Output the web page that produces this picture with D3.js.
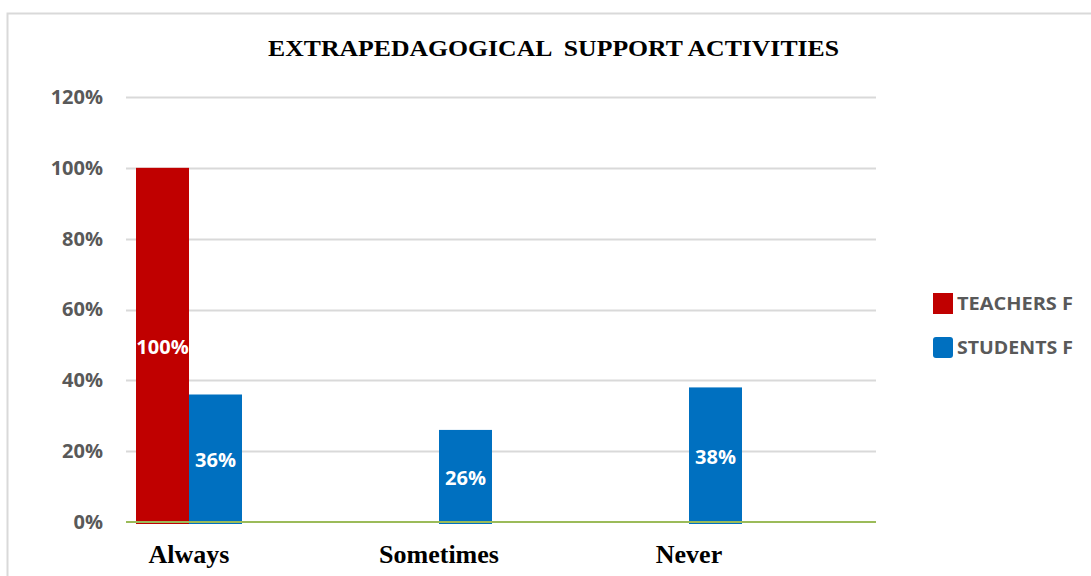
<!DOCTYPE html>
<html>
<head>
<meta charset="utf-8">
<script src="https://cdn.jsdelivr.net/npm/d3@7"></script>
<style>
  html, body { margin: 0; padding: 0; background: #ffffff; }
  svg { display: block; }
</style>
</head>
<body>
<svg id="chart" width="1091" height="576"></svg>
<script>
// Chart data
const categories = ["Always", "Sometimes", "Never"];
const seriesNames = ["TEACHERS F", "STUDENTS F"];
const teachersF = [1.00, null, null];
const studentsF = [0.36, 0.26, 0.38];
const yTicks = [0, 0.2, 0.4, 0.6, 0.8, 1.0, 1.2];
const chartTitle = "EXTRAPEDAGOGICAL  SUPPORT ACTIVITIES";

const seriesValues = [teachersF, studentsF];
const seriesColors = ["#c00000", "#0070c0"];

const svg = d3.select("#chart");

// Outer chart frame
svg.append("rect")
  .attr("x", 7.5).attr("y", 13.5)
  .attr("width", 1200).attr("height", 700)
  .attr("fill", "none")
  .attr("stroke", "#d9d9d9")
  .attr("stroke-width", 2);

// Plot area
const plot = { left: 126, right: 876, top: 97, bottom: 522 };

const y = d3.scaleLinear().domain([0, 1.2]).range([plot.bottom, plot.top]);
const x = d3.scaleBand().domain(categories).range([plot.left, plot.right]);
// Series offsets inside each category band
const xs = d3.scaleBand().domain(seriesNames).range([10, 116]);
const groupCenter = c => x(c) + xs(seriesNames[1]);

// Title
svg.append("text")
  .attr("x", 268).attr("y", 56)
  .attr("textLength", 571)
  .attr("lengthAdjust", "spacingAndGlyphs")
  .style("white-space", "pre")
  .attr("font-family", "'Liberation Serif', 'Times New Roman', serif")
  .attr("font-weight", "bold")
  .attr("font-size", 24)
  .attr("fill", "#000000")
  .text(chartTitle);

// Gridlines
svg.append("g")
  .selectAll("line")
  .data(yTicks.filter(t => t > 0))
  .join("line")
  .attr("x1", plot.left).attr("x2", plot.right)
  .attr("y1", d => Math.round(y(d)) + 0.5)
  .attr("y2", d => Math.round(y(d)) + 0.5)
  .attr("stroke", "#d9d9d9")
  .attr("stroke-width", 2);

// Y axis labels
const yAxis = d3.axisLeft(y)
  .tickValues(yTicks)
  .tickFormat(d3.format(".0%"))
  .tickSize(0)
  .tickPadding(0);
const yAxisG = svg.append("g")
  .attr("transform", "translate(103,0)")
  .call(yAxis);
yAxisG.select(".domain").remove();
yAxisG.selectAll("text")
  .attr("font-family", "'Open Sans', sans-serif")
  .attr("font-weight", "bold")
  .attr("font-size", 20)
  .attr("fill", "#595959");

// Bars
const barData = [];
seriesValues.forEach((vals, si) => {
  vals.forEach((v, ci) => {
    if (v !== null) barData.push({ series: seriesNames[si], color: seriesColors[si], cat: categories[ci], value: v });
  });
});

const bars = svg.append("g");
bars.selectAll("rect")
  .data(barData)
  .join("rect")
  .attr("x", d => x(d.cat) + xs(d.series))
  .attr("width", xs.bandwidth())
  .attr("y", d => y(d.value))
  .attr("height", d => y(0) - y(d.value) + 2)
  .attr("fill", d => d.color);

// Baseline
svg.append("line")
  .attr("x1", plot.left).attr("x2", plot.right)
  .attr("y1", y(0)).attr("y2", y(0))
  .attr("stroke", "#9bbb59")
  .attr("stroke-width", 2);

// Data labels
svg.append("g")
  .selectAll("text")
  .data(barData)
  .join("text")
  .attr("x", d => x(d.cat) + xs(d.series) + xs.bandwidth() / 2)
  .attr("y", d => (y(d.value) + y(0)) / 2 + 9)
  .attr("text-anchor", "middle")
  .attr("font-family", "'Open Sans', sans-serif")
  .attr("font-weight", "bold")
  .attr("font-size", 20)
  .attr("fill", "#ffffff")
  .text(d => d3.format(".0%")(d.value));

// Category labels
svg.append("g")
  .selectAll("text")
  .data(categories)
  .join("text")
  .attr("x", d => groupCenter(d))
  .attr("y", 563)
  .attr("text-anchor", "middle")
  .attr("font-family", "'Liberation Serif', 'Times New Roman', serif")
  .attr("font-weight", "bold")
  .attr("font-size", 26)
  .attr("fill", "#000000")
  .text(d => d);

// Legend
const legend = svg.append("g");
const legendRows = [
  { name: seriesNames[0], color: seriesColors[0], top: 293, rx: 0 },
  { name: seriesNames[1], color: seriesColors[1], top: 337, rx: 3 }
];
legendRows.forEach(r => {
  legend.append("rect")
    .attr("x", 933).attr("y", r.top)
    .attr("width", 20).attr("height", 21)
    .attr("rx", r.rx)
    .attr("fill", r.color);
  legend.append("text")
    .attr("x", 957).attr("y", r.top + 17)
    .attr("textLength", 116)
    .attr("lengthAdjust", "spacingAndGlyphs")
    .attr("font-family", "'Open Sans', sans-serif")
    .attr("font-weight", "bold")
    .attr("font-size", 18)
    .attr("fill", "#595959")
    .text(r.name);
});
</script>
</body>
</html>
